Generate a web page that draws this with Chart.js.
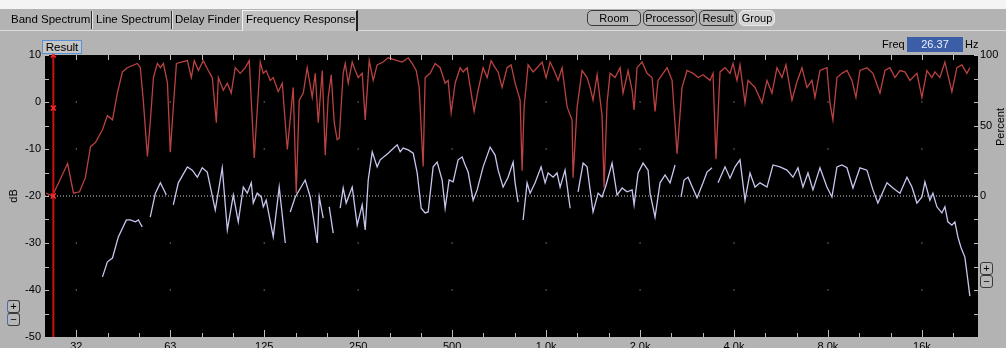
<!DOCTYPE html>
<html><head><meta charset="utf-8">
<script src="https://cdn.jsdelivr.net/npm/chart.js@4.4.0/dist/chart.umd.min.js"></script>
<style>
html,body{margin:0;padding:0;}
body{width:1006px;height:348px;overflow:hidden;background:#b3b3b3;position:relative;font-family:"Liberation Sans",Arial,sans-serif;color:#000;}
#c{position:absolute;left:0;top:0;z-index:0;}
.a{position:absolute;white-space:nowrap;z-index:2;}
.tab{font-size:11.5px;line-height:14px;top:12px;}
.sep{top:11px;width:1px;height:18px;background:#303030;}
.sepl{top:11px;width:1px;height:18px;background:#e6e6e6;}
.btn{top:10px;height:14px;border:1px solid #3a3a3a;border-radius:5px;font-size:11px;line-height:14px;text-align:center;background:#b6b6b6;}
.pm{width:11px;height:11px;border:1px solid #3a3a3a;border-radius:3px;font-size:11px;line-height:11px;text-align:center;background:#b6b6b6;}
</style></head>
<body>
<canvas id="c" width="1006" height="358" style="width:1006px;height:358px"></canvas>
<div class="a" style="left:0;top:0;width:1006px;height:9px;background:#f4f4f4"></div>
<div class="a" style="left:0;top:30px;width:1006px;height:1px;background:#dadada"></div>
<div class="a" style="left:242px;top:10px;width:113px;height:20px;background:#c2c2c2;border-top:1px solid #f2f2f2;border-left:1px solid #f2f2f2;border-right:2px solid #1e1e1e"></div>
<div class="a tab" style="left:11px">Band Spectrum</div>
<div class="a sep" style="left:91px"></div><div class="a sepl" style="left:92px"></div>
<div class="a tab" style="left:96px">Line Spectrum</div>
<div class="a sep" style="left:171px"></div><div class="a sepl" style="left:172px"></div>
<div class="a tab" style="left:175px">Delay Finder</div>
<div class="a tab" style="left:246px">Frequency Response</div>
<div class="a btn" style="left:587px;width:52px">Room</div>
<div class="a btn" style="left:643px;width:52px">Processor</div>
<div class="a btn" style="left:699px;width:36px">Result</div>
<div class="a btn" style="left:739px;width:34px;background:#d4d4d4;border-color:#e8e8e8">Group</div>
<div class="a" style="left:42px;top:40px;width:38px;height:12px;border:1px solid #5b8fd6;background:#c6c6c6;font-size:11.5px;line-height:12px;text-align:center">Result</div>
<div class="a" style="left:882px;top:38px;font-size:11px;line-height:13px">Freq</div>
<div class="a" style="left:907px;top:37px;width:56px;height:15px;background:#3c5ea6;color:#e8eeff;font-size:11px;line-height:15px;text-align:center">26.37</div>
<div class="a" style="left:965px;top:38px;font-size:11px;line-height:13px">Hz</div>
<div class="a" style="left:980px;top:120px;width:40px;height:14px;font-size:11px;line-height:14px;text-align:center;transform:rotate(-90deg)">Percent</div>
<div class="a pm" style="left:7px;top:300px;border-left-color:#4a6ea8">+</div>
<div class="a pm" style="left:7px;top:313px;border-left-color:#4a6ea8">&minus;</div>
<div class="a pm" style="left:980px;top:262px">+</div>
<div class="a pm" style="left:980px;top:275px">&minus;</div>
<script>
// ---- axis ticks / labels ----
const octaveTicks = [31.25, 62.5, 125, 250, 500, 1000, 2000, 4000, 8000, 16000];
const octaveLabels = ['32', '63', '125', '250', '500', '1.0k', '2.0k', '4.0k', '8.0k', '16k'];
const thirdOctaveTicks = [31.25, 39.37, 49.61, 62.5, 78.75, 99.21, 125, 157.49, 198.43, 250, 314.98, 396.85, 500, 629.96, 793.7, 1000, 1259.92, 1587.4, 2000, 2519.84, 3174.8, 4000, 5039.68, 6349.6, 8000, 10079.37, 12699.21, 16000, 20158.74];
const dbLabelValues = [10, 0, -10, -20, -30, -40, -50];
const dbMinorTicks = [10, 5, 0, -5, -10, -15, -20, -25, -30, -35, -40, -45, -50];
const pctLabelValues = [100, 50, 0];
const gridDotDb = [0, -10, -30, -40];
const freqMin = 24.8, freqMax = 24200;
const refLevelDb = -20;
const cursorFreq = 26.37;
const cursorMarkDb = [10, -1.3, -20];

// ---- coherence (red, percent) ----
const redFreq = [25.0,26.2,29.3,30.6,32.0,33.4,34.7,36.0,37.9,39.3,40.8,42.3,43.9,45.5,49.0,50.1,51.2,52.8,53.9,55.2,56.8,58.1,59.4,61.2,62.5,63.9,65.4,70.9,73.0,74.6,76.9,79.7,82.7,85.2,87.8,89.1,92.4,95.2,98.0,100.9,104.7,108.7,111.9,116.1,121.4,124.1,126.8,130.7,133.6,138.6,142.8,148.2,154.8,158.3,161.8,166.7,171.6,178.1,182.1,186.2,191.8,196.0,200.4,204.9,209.5,214.1,217.3,223.8,227.2,232.3,239.2,244.6,250.0,257.5,263.3,271.2,279.3,287.5,300.5,311.9,333.3,345.8,361.5,372.3,383.5,392.0,403.7,409.7,425.1,441.0,457.6,474.8,485.4,496.3,511.1,530.3,542.2,558.4,588.0,605.6,628.4,647.2,666.6,686.5,701.9,722.8,750.0,772.5,795.6,825.5,837.8,850.2,875.7,908.6,935.8,970.9,1000,1030,1061,1093,1125,1168,1211,1220,1257,1304,1353,1383,1414,1457,1511,1534,1568,1603,1663,1726,1764,1831,1886,1914,1956,2030,2106,2185,2234,2284,2370,2441,2533,2628,2726,2829,2957,3068,3183,3351,3426,3502,3608,3744,3884,3971,4089,4181,4338,4435,4670,4917,5102,5293,5492,5698,5869,6135,6365,6604,6852,7109,7268,7541,7939,8117,8298,8549,8870,9204,9549,9834,10129,10665,11148,11741,12181,12638,13113,13605,14115,14644,15420,16000,16601,17223,17609,18271,18956,19960,20710,21487,22293,22792];
const redPct = [2,0,23,2,3,13,35,38,47,57,54,73,88,91,94,91,68,28,52,84,94,91,94,80,31,63,94,96,84,96,89,96,89,84,52,84,75,80,73,91,87,91,96,27,95,87,89,82,84,74,80,33,77,2,68,73,91,70,87,52,89,29,70,86,52,40,41,87,94,80,95,89,84,87,54,96,82,93,95,98,96,95,98,94,89,77,21,84,87,94,91,80,82,59,80,91,88,91,60,75,91,84,96,91,88,77,91,93,80,68,18,63,93,88,91,95,84,95,89,82,91,63,54,13,63,89,84,77,68,86,57,6,66,87,84,91,73,89,75,61,91,95,87,84,60,82,87,91,82,30,77,89,87,84,86,82,87,26,88,91,87,94,82,93,66,82,77,66,82,73,91,84,93,68,81,91,77,82,70,89,91,66,54,84,87,89,82,70,89,91,87,73,89,91,84,89,88,82,87,70,89,84,88,84,95,74,91,93,87,91];

// ---- magnitude (lavender, dB); null = gap ----
const whiteFreq = [37.9,39.3,40.8,42.6,45.2,46.5,48.3,49.4,50.8,52.0,53.9,56.0,58.1,60.7,62.0,63.9,66.3,70.9,73.5,76.3,79.1,82.1,87.1,91.7,95.2,99.5,103.2,107.1,110.3,113.6,115.3,118.7,122.3,124.1,126.8,133.6,139.6,146.0,148.5,151.4,157.1,169.1,175.5,184.8,187.6,193.1,197.0,201.9,207.9,213.0,218.9,223.8,228.8,239.2,248.2,257.5,263.3,269.2,277.3,287.5,294.0,311.9,333.3,340.7,348.3,361.5,375.1,386.3,397.9,409.7,418.9,434.6,447.6,464.4,474.8,489.0,503.6,522.5,538.3,550.3,562.6,583.7,601.2,628.4,661.7,686.5,701.9,728.2,755.6,784.0,795.6,813.4,828.0,844.0,869.2,888.7,922.0,963.8,992.7,1015,1053,1084,1109,1150,1194,1230,1266,1314,1353,1414,1468,1511,1556,1627,1688,1752,1817,1886,1914,1971,2045,2122,2153,2234,2318,2405,2496,2589,2650,2706,2767,2850,3045,3183,3278,3401,3480,3555,3744,3884,4030,4181,4338,4501,4670,4846,5102,5332,5614,5912,6180,6412,6653,6903,7162,7541,7939,8238,8549,8870,9204,9620,10129,10665,11148,11565,12362,12921,13605,14328,14865,15420,16000,16359,16972,17352,17871,18542,18956,19380,19960,20405,20861,21330,21967,22456,22792];
const whiteDb = [-37.2,-34.0,-33.2,-28.7,-25.1,-25.1,-25.5,-25.1,-26.6,null,-24.5,-19.4,-17.2,-19.8,null,-21.9,-17.2,-13.8,-14.5,-16.0,-14.0,-14.9,-23.0,-14.0,-27.2,-19.8,-25.5,-18.1,-19.4,-17.2,-21.5,-19.4,-20.2,-22.3,-20.9,-28.7,-18.1,-30.0,null,-23.4,-20.2,-16.6,-20.2,-30.0,-20.2,-24.7,null,-22.3,-27.9,null,-22.6,-18.3,-21.5,-18.1,-26.2,-21.9,-27.2,-16.6,-10.6,-13.8,-12.3,-10.9,-9.1,-10.6,-9.8,-10.2,-10.9,-15.1,-22.6,-23.6,-23.4,-13.8,-12.8,-16.6,-22.6,-16.6,-17.0,-12.3,-11.7,-13.4,-14.9,-20.9,-18.7,-13.8,-9.6,-11.3,-14.5,-18.1,-16.0,-12.8,-17.2,-21.3,null,-25.1,-17.2,-19.4,-17.2,-13.8,-17.2,-15.1,-16.0,-15.1,-18.1,-14.5,-22.6,null,-19.1,-13.0,-13.8,-23.4,-19.4,-20.2,-17.7,-13.0,-19.8,-18.3,-19.1,-18.7,-21.9,-15.1,-13.0,-14.5,-19.4,-24.5,-17.2,-15.5,-17.2,-13.4,null,-20.2,-16.6,-16.0,-20.4,-17.2,-14.9,-14.0,null,-17.2,-13.8,-16.2,-13.8,-12.3,-20.9,-15.1,-18.1,-17.2,-18.1,-13.4,-13.8,-14.5,-16.0,-14.0,-18.1,-15.1,-18.7,-14.0,-18.1,-20.2,-13.8,-13.4,-14.0,-18.3,-14.0,-14.5,-18.7,-21.5,-17.2,-18.3,-19.4,-16.0,-18.1,-21.5,-20.2,-17.0,-20.9,-19.4,-22.3,-23.6,-22.3,-25.5,-26.2,-25.5,-28.7,-30.9,-33.0,-37.9,-41.3];

const FONT = {family: '"Liberation Sans", Arial, sans-serif', size: 11};

const plotBg = {
  id: 'plotBg',
  beforeDraw(chart) {
    const {ctx, chartArea: a} = chart;
    ctx.save(); ctx.fillStyle = '#000';
    ctx.fillRect(a.left, a.top, a.right - a.left, a.bottom - a.top);
    ctx.restore();
  }
};
const innerTicks = {
  id: 'innerTicks',
  afterDatasetsDraw(chart) {
    const {ctx, chartArea: a, scales} = chart;
    const xs = scales.x, ys = scales.y;
    ctx.save(); ctx.strokeStyle = '#bcbcbc'; ctx.lineWidth = 1; ctx.beginPath();
    thirdOctaveTicks.forEach(v => {
      const px = Math.round(xs.getPixelForValue(v)) + 0.5;
      const major = octaveTicks.includes(v);
      ctx.moveTo(px, a.top); ctx.lineTo(px, a.top + 5);
      ctx.moveTo(px, a.bottom); ctx.lineTo(px, a.bottom - (major ? 7 : 4));
    });
    dbMinorTicks.forEach(v => {
      const py = Math.round(ys.getPixelForValue(v)) + 0.5;
      ctx.moveTo(a.left, py); ctx.lineTo(a.left + 4, py);
      ctx.moveTo(a.right, py); ctx.lineTo(a.right - 4, py);
    });
    ctx.stroke(); ctx.restore();
  }
};

const whitePts = whiteFreq.map((f, i) => ({x: f, y: whiteDb[i]}));
const redPts = redFreq.map((f, i) => ({x: f, y: redPct[i]}));
const dotPts = octaveTicks.flatMap(f => gridDotDb.map(d => ({x: f, y: d})));

new Chart(document.getElementById('c'), {
  type: 'line',
  data: {
    datasets: [
      {data: dotPts, yAxisID: 'y', showLine: false, pointStyle: 'rect', pointRadius: 0.8,
       pointBackgroundColor: '#a8a8a8', pointBorderWidth: 0, order: 6},
      {data: [{x: freqMin, y: refLevelDb}, {x: freqMax, y: refLevelDb}], yAxisID: 'y',
       borderColor: '#cfcfcf', borderWidth: 1, borderDash: [1, 2], pointRadius: 0, order: 5},
      {label: 'Result', data: whitePts, yAxisID: 'y', borderColor: '#c6c6ee', borderWidth: 1.3,
       pointRadius: 0, spanGaps: false, tension: 0, order: 4},
      {label: 'Coherence', data: redPts, yAxisID: 'yPct', borderColor: '#bb4242', borderWidth: 1.3,
       pointRadius: 0, tension: 0, order: 3},
      {data: [{x: cursorFreq, y: 10}, {x: cursorFreq, y: -50}], yAxisID: 'y',
       borderColor: '#cc1010', borderWidth: 2, pointRadius: 0, order: 2},
      {data: cursorMarkDb.map(d => ({x: cursorFreq, y: d})), yAxisID: 'y', showLine: false,
       pointStyle: 'crossRot', pointRadius: 3.5, pointBorderColor: '#ff2a2a', pointBorderWidth: 1.5,
       clip: 6, order: 1}
    ]
  },
  options: {
    responsive: false, animation: false, devicePixelRatio: 1,
    layout: {padding: {top: 55, left: 0, right: 0, bottom: 0}},
    plugins: {legend: {display: false}, tooltip: {enabled: false}},
    scales: {
      x: {
        type: 'logarithmic', min: freqMin, max: freqMax, position: 'bottom',
        afterBuildTicks: s => { s.ticks = thirdOctaveTicks.map(v => ({value: v})); },
        afterFit: s => { s.height = 21; },
        grid: {display: false, drawTicks: false}, border: {display: false},
        ticks: {autoSkip: false, maxRotation: 0, minRotation: 0, padding: 3, color: '#000', font: FONT,
          callback: v => { const i = octaveTicks.indexOf(v); return i >= 0 ? octaveLabels[i] : ''; }}
      },
      y: {
        position: 'left', min: -50, max: 10,
        afterBuildTicks: s => { s.ticks = dbLabelValues.map(v => ({value: v})); },
        afterFit: s => { s.width = 45; },
        grid: {display: false, drawTicks: false}, border: {display: false},
        ticks: {padding: 4, color: '#000', font: FONT, callback: v => String(v)},
        title: {display: true, text: 'dB', color: '#000', font: FONT, padding: {top: 7, bottom: 0}}
      },
      yPct: {
        position: 'right', min: -100, max: 100,
        afterBuildTicks: s => { s.ticks = pctLabelValues.map(v => ({value: v})); },
        afterFit: s => { s.width = 28; },
        grid: {display: false, drawTicks: false}, border: {display: false},
        ticks: {padding: 2, color: '#000', font: FONT, callback: v => String(v)}
      }
    }
  },
  plugins: [plotBg, innerTicks]
});
</script>
</body></html>
